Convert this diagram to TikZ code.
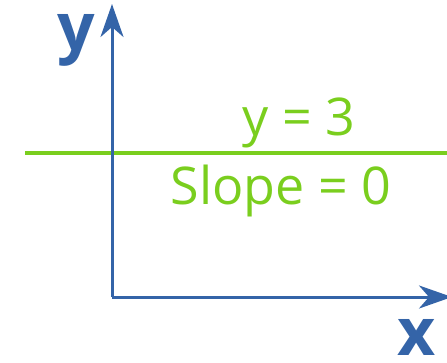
\documentclass[tikz,border=0pt]{standalone}
\usepackage{fontspec}
\setmainfont{Open Sans}
\usetikzlibrary{arrows.meta}
\definecolor{axisblue}{RGB}{52,100,168}
\definecolor{linegreen}{RGB}{122,206,30}
\tikzset{
  axis/.style={draw=axisblue, line width=3pt, -{Stealth[length=33pt,width=23pt,inset=10pt]}},
  axislabel/.style={text=axisblue, font=\bfseries\fontsize{66}{70}\selectfont, anchor=base, inner sep=0pt},
  greenlabel/.style={text=linegreen, font=\fontsize{52}{60}\selectfont, anchor=base, inner sep=0pt},
}
\begin{document}
\begin{tikzpicture}[x=1pt,y=-1pt]
\useasboundingbox (0,0) rectangle (447,362);
\coordinate (O) at (112,297);
\coordinate (ytip) at (112,4);
\coordinate (xtip) at (452,297);
\coordinate (gl) at (25,153);
\coordinate (gr) at (450,153);
\draw[draw=linegreen, line width=4pt] (gl) -- (gr);
\draw[axis] (O) -- (ytip);
\draw[axis] (O) -- (xtip);
\node[axislabel] (ylab) at (76,50) {y};
\node[axislabel] (xlab) at (417,355) {x};
\node[greenlabel] (eq) at (299,135) {y = 3};
\node[greenlabel] (slope) at (281,204) {Slope = 0};
\end{tikzpicture}
\end{document}
